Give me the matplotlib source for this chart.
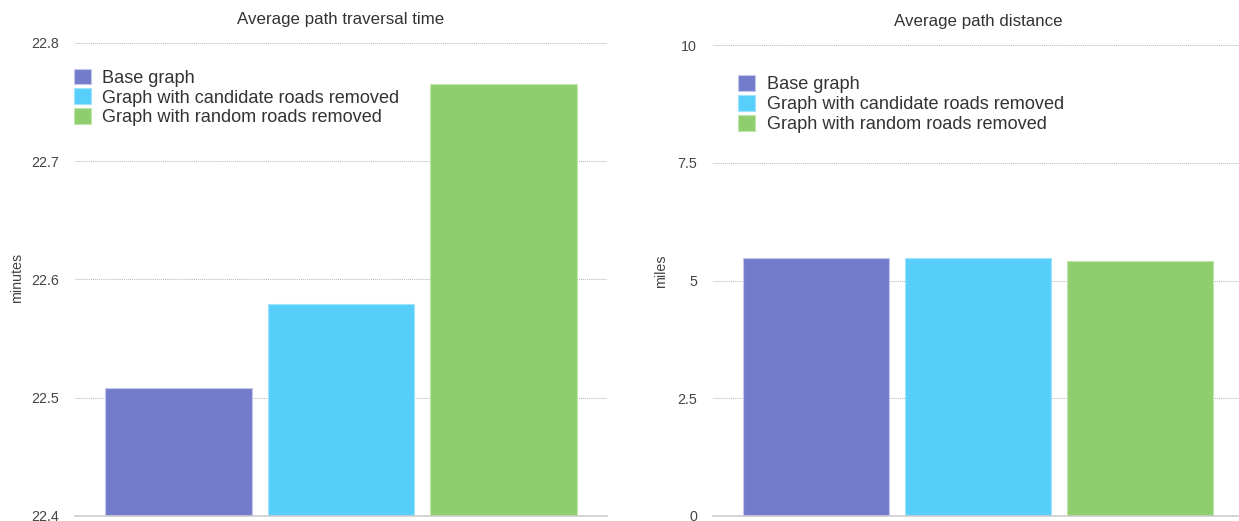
import matplotlib
matplotlib.use("Agg")
import matplotlib.pyplot as plt
from matplotlib.patches import Patch

plt.rcParams['font.family'] = ['Liberation Sans', 'DejaVu Sans']

series = ['Base graph', 'Graph with candidate roads removed', 'Graph with random roads removed']
colors = ['#737cca', '#57cffa', '#8fce6e']
edges = ['#c4c8ec', '#9fe3fc', '#bfe5ad']

time_minutes = [22.508, 22.579, 22.765]
distance_miles = [5.47, 5.475, 5.42]

time_ticks = [22.4, 22.5, 22.6, 22.7, 22.8]
time_ticklabels = ['22.4', '22.5', '22.6', '22.7', '22.8']
dist_ticks = [0, 2.5, 5, 7.5, 10]
dist_ticklabels = ['0', '2.5', '5', '7.5', '10']

dpi = 100
fig = plt.figure(figsize=(1239/dpi, 521/dpi), dpi=dpi)

ax1 = fig.add_axes([0.0605, 0.0096, 0.4294, 0.9079])
ax2 = fig.add_axes([0.5755, 0.0096, 0.4278, 0.9040])


def style(ax, vals, ticks, ticklabels, ylim, title, ylabel, label_xy, leg_xy, tpad):
    x = range(len(vals))
    ax.bar(x, [v - ylim[0] for v in vals], bottom=ylim[0], width=0.902,
           color=colors, edgecolor=edges, linewidth=0.8, zorder=3)
    ax.set_xlim(-0.635, 2.635)
    ax.set_ylim(*ylim)
    ax.set_yticks(ticks)
    ax.set_yticklabels(ticklabels)
    ax.set_xticks([])
    ax.tick_params(axis='y', length=0, pad=11.5, labelsize=10.3, labelcolor='#444444')
    for s in ['top', 'right', 'left']:
        ax.spines[s].set_visible(False)
    ax.spines['bottom'].set_color('#cccccc')
    ax.spines['bottom'].set_linewidth(1.2)
    ax.spines['bottom'].set_zorder(4)
    ax.yaxis.grid(True, linestyle=(0, (1, 1)), color='#b5b5b5', linewidth=0.7, zorder=0)
    ax.set_axisbelow(True)
    ax.set_title(title, fontsize=12.2, color='#333333', pad=tpad)
    ax.set_ylabel(ylabel, fontsize=10.3, color='#444444')
    ax.yaxis.set_label_coords(*label_xy)
    handles = [Patch(facecolor=c, edgecolor=e, linewidth=0.8) for c, e in zip(colors, edges)]
    ax.legend(handles, series, loc='upper left', bbox_to_anchor=leg_xy, frameon=False,
              fontsize=13.1, handlelength=0.95, handleheight=0.95, handletextpad=0.62,
              labelspacing=0.1, borderaxespad=0, borderpad=0, labelcolor='#333333')


style(ax1, time_minutes, time_ticks, time_ticklabels, (22.4, 22.8),
      'Average path traversal time', 'minutes', (-0.096, 0.504), (-0.002, 0.946), 14)
style(ax2, distance_miles, dist_ticks, dist_ticklabels, (0, 10),
      'Average path distance', 'miles', (-0.085, 0.52), (0.047, 0.936), 14)

plt.savefig('out.png', dpi=dpi)
